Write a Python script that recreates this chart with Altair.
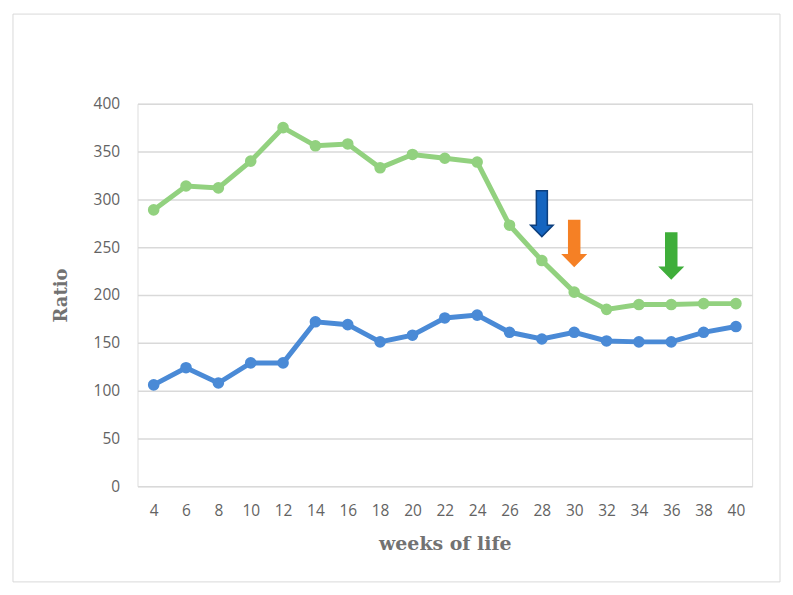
import altair as alt
import pandas as pd

weeks = [4, 6, 8, 10, 12, 14, 16, 18, 20, 22, 24, 26, 28, 30, 32, 34, 36, 38, 40]
green_ratio = [289, 314, 312, 340, 375, 356, 358, 333, 347, 343, 339, 273, 236, 203, 185, 190, 190, 191, 191]
blue_ratio = [106, 124, 108, 129, 129, 172, 169, 151, 158, 176, 179, 161, 154, 161, 152, 151, 151, 161, 167]

arrow_weeks = [28, 30, 36]
arrow_ratio = [285, 254, 241]
arrow_fill = ["#1565c0", "#f58025", "#3fae3a"]
arrow_stroke = ["#0c3f7e", "#f58025", "#3fae3a"]

y_ticks = [0, 50, 100, 150, 200, 250, 300, 350, 400]

GREEN = "#92d17f"
BLUE = "#4a8ad6"
LABEL_FONT = "Open Sans"
TITLE_FONT = "DejaVu Serif"

df_green = pd.DataFrame({"week": weeks, "ratio": green_ratio})
df_blue = pd.DataFrame({"week": weeks, "ratio": blue_ratio})
df_arrow = pd.DataFrame({"week": arrow_weeks, "ratio": arrow_ratio,
                         "fill": arrow_fill, "stroke": arrow_stroke})

x_enc = alt.X("week:O", scale=alt.Scale(domain=weeks),
              axis=alt.Axis(title="weeks of life", labelAngle=0, domain=False, ticks=False,
                            grid=False, labelFont=LABEL_FONT, labelFontSize=15.5,
                            labelColor="#636363", labelPadding=17,
                            titleFont=TITLE_FONT, titleFontSize=19, titleFontWeight="bold",
                            titleColor="#727272", titlePadding=16))
y_enc = alt.Y("ratio:Q", scale=alt.Scale(domain=[0, 400], nice=False),
              axis=alt.Axis(title="Ratio", values=y_ticks, domain=False, ticks=False,
                            gridColor="#d9d9d9", gridWidth=1.5,
                            labelFont=LABEL_FONT, labelFontSize=15.5, labelColor="#636363",
                            labelPadding=18, titleFont=TITLE_FONT, titleFontSize=18,
                            titleFontWeight="bold", titleColor="#727272", titlePadding=23))

border = alt.Chart(pd.DataFrame({"a": [0]})).mark_rect(
    fill="white", fillOpacity=0, stroke="#d9d9d9", strokeWidth=1
).encode(x=alt.value(-125), x2=alt.value(645), y=alt.value(-90), y2=alt.value(480))

green = alt.Chart(df_green).mark_line(
    color=GREEN, strokeWidth=5,
    point=alt.OverlayMarkDef(filled=True, size=135, color=GREEN, opacity=1)
).encode(x=x_enc, y=y_enc)

blue = alt.Chart(df_blue).mark_line(
    color=BLUE, strokeWidth=5,
    point=alt.OverlayMarkDef(filled=True, size=135, color=BLUE, opacity=1)
).encode(x=x_enc, y=y_enc)

arrow_path = "M -0.24 -1 L 0.24 -1 L 0.24 0.5 L 0.49 0.5 L 0 1 L -0.49 0.5 L -0.24 0.5 Z"
arrows = alt.Chart(df_arrow).mark_point(
    shape=arrow_path, size=2116, filled=True, opacity=1, strokeWidth=1.5
).encode(
    x=x_enc, y=y_enc,
    fill=alt.Fill("fill:N", scale=None),
    stroke=alt.Stroke("stroke:N", scale=None),
)

chart = alt.layer(border, green, blue, arrows).properties(
    width=617, height=384, padding=4
).configure_view(strokeWidth=0).configure(background="white")

chart.save("out.html", embed_options={"renderer": "svg", "actions": False})
